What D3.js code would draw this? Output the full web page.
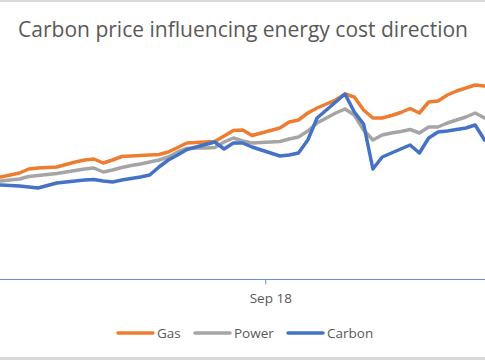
<!DOCTYPE html>
<html>
<head>
<meta charset="utf-8">
<script src="https://cdn.jsdelivr.net/npm/d3@7"></script>
<style>
  html, body { margin: 0; padding: 0; background: #fff; }
  svg { display: block; }
</style>
</head>
<body>
<svg id="chart" width="485" height="360"></svg>
<script>
// Weekly observations (index value), first point one week before the visible window
const startDate = new Date(2018, 1, 7); // Feb 7 2018
const weeks = d3.range(54).map(i => d3.timeWeek.offset(startDate, i));

const gas = [50.5, 51, 52, 53, 55, 55.5, 55.75, 56, 57.25, 58.5, 59.5, 60, 58, 59.5, 61.25, 61.5, 61.75, 62, 62.25, 63.5, 65.75, 68, 68.25, 68.5, 68.75, 71.5, 74.25, 74.5, 71.75, 73, 74.25, 75.5, 78.5, 79.5, 83, 85.5, 87.5, 89.5, 92.5, 91, 84.5, 80.5, 80.5, 81.75, 83.25, 85.25, 83, 88.5, 89, 92, 94, 95.5, 97, 96.5];
const power = [48.5, 49, 49.5, 50, 51.25, 51.75, 52.25, 52.75, 53.5, 54.25, 55, 55.5, 53.5, 54.5, 55.75, 56.75, 57.5, 58.5, 59.5, 61, 63.5, 65.25, 65.5, 65.5, 65.75, 68.5, 70.5, 69, 68, 68.25, 68.5, 68.75, 70, 71, 74, 78, 80.5, 83, 85, 82, 74.5, 69.5, 72, 73, 73.75, 74.75, 73, 76, 76, 78, 79.5, 81, 83, 80.5];
const carbon = [47, 47, 46.75, 46.5, 46, 45.5, 46.75, 48, 48.5, 49, 49.5, 49.75, 49, 48.5, 49.5, 50.25, 51, 52, 56, 59.5, 62, 64.75, 66, 67.25, 68.5, 65, 68, 68, 66, 64.5, 63, 61.5, 62, 63, 69.5, 80.5, 84.5, 88.5, 92.5, 83.5, 77.5, 55, 61, 63, 65, 67, 63, 70.5, 73.5, 74, 74.75, 75.5, 77, 69.5];

const seriesNames = ["Gas", "Power", "Carbon"];
const seriesValues = [gas, power, carbon];
const colors = ["#ED7D31", "#A5A5A5", "#4472C4"];
const tickDates = [new Date(2018, 8, 1)];
const tickLabels = ["Sep 18"];
const title = "Carbon price influencing energy cost direction";

const W = 485, H = 360;
const svg = d3.select("#chart");

// frame borders
svg.append("rect").attr("x", 0).attr("y", 0).attr("width", W).attr("height", 2).attr("fill", "#d9d9d9");
svg.append("rect").attr("x", 0).attr("y", 357).attr("width", W).attr("height", 3).attr("fill", "#d9d9d9");

const x = d3.scaleTime()
  .domain([weeks[1], weeks[53]])
  .range([0.9, 484.5]);
const y = d3.scaleLinear().domain([0, 112]).range([279, 55]);

// title
svg.append("text")
  .attr("x", 243).attr("y", 37)
  .attr("text-anchor", "middle")
  .attr("font-family", "Open Sans, sans-serif")
  .attr("font-size", 21)
  .attr("fill", "#595959")
  .attr("textLength", 450)
  .attr("lengthAdjust", "spacingAndGlyphs")
  .text(title);

// x axis
const axis = d3.axisBottom(x)
  .tickValues(tickDates)
  .tickFormat((d, i) => tickLabels[i])
  .tickSize(5)
  .tickPadding(9);
const gAxis = svg.append("g").attr("transform", "translate(0,279.5)").call(axis);
gAxis.select(".domain").attr("d", `M-10,0H${W + 10}`).attr("stroke", "#6a8fd3").attr("stroke-width", 1);
gAxis.selectAll(".tick line").attr("stroke", "#6a8fd3");
gAxis.selectAll(".tick text")
  .attr("font-family", "Open Sans, sans-serif")
  .attr("font-size", 13.5)
  .attr("fill", "#595959")
  .attr("dx", 5);

// lines
const line = d3.line()
  .x((d, i) => x(weeks[i]))
  .y(d => y(d));

seriesValues.forEach((vals, k) => {
  svg.append("path")
    .datum(vals)
    .attr("fill", "none")
    .attr("stroke", colors[k])
    .attr("stroke-width", 3.5)
    .attr("stroke-linejoin", "round")
    .attr("stroke-linecap", "round")
    .attr("d", line);
});

// legend
const legendX = [118, 195, 288];
const lg = svg.append("g").attr("transform", "translate(0,333)");
seriesNames.forEach((name, k) => {
  lg.append("line")
    .attr("x1", legendX[k]).attr("x2", legendX[k] + 35)
    .attr("y1", 0).attr("y2", 0)
    .attr("stroke", colors[k]).attr("stroke-width", 3.5)
    .attr("stroke-linecap", "round");
  lg.append("text")
    .attr("x", legendX[k] + 39).attr("y", 5)
    .attr("font-family", "Open Sans, sans-serif")
    .attr("font-size", 13.5)
    .attr("fill", "#595959")
    .text(name);
});
</script>
</body>
</html>
